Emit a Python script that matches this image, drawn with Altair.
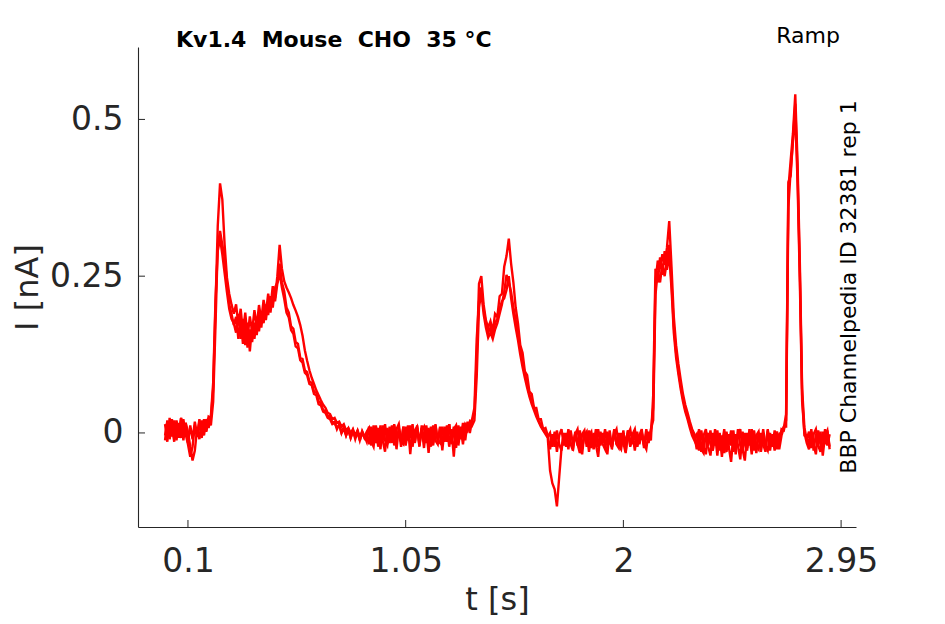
import altair as alt
import pandas as pd

# sampling interval of the recorded traces (s)
DT = 0.01

# three repetitions of the recorded current, in pA, sampled every DT from t = 0
trace_a = [
    -12, 20, -6, 22, -10, 18, -4, 24, -12, 16, -16, 12, -10, 18, -4, 22, 0, 20, 4, 26, 24,
    70, 200, 330, 398, 372, 300, 248, 222, 205, 190,
    205, 172, 198, 160, 192, 152, 186, 162, 196, 170, 204, 180, 212, 190, 222, 200, 234, 215, 250,
    300, 262, 242, 232, 224, 215, 204, 195, 185, 172, 155, 132, 115, 100, 88, 78, 68, 60, 52, 45,
    40, 32, 30, 22, 24, 16, 18, 10, 14, 4, 8, 0, 6, -4, 4, -6, 2, -8, 0,
    -18, 10, -14, 12, -22, 6, -12, 14, -18, 4, -10, 12, -26, 8, -14, 10, -20, 6, -8, 14,
    -16, 8, -22, 12, -12, 6, -32, 10, -16, 12, -14, 8, -20, 10, -8, 14, -18, 10, -24, 12,
    -10, 16, -12, 18, 0, 20,
    30, 120, 238, 250, 205, 180, 168, 178, 162, 190, 185, 218, 222, 265, 282, 310, 270, 240, 200,
    175, 140, 128, 98, 92, 66, 62, 40, 40, 22, 22, 6, 8, -4,
    -26, -2, -22, 4, -18, -28, 0, -20, 6, -16, -24, 2, -18, -32, -2, 4, -22, -4, 2, -26,
    -14, 6, -20, 0, -18, -34, 4, -22, -2, 6, -20, -26, 0, -16, 4, -22, -2, -28, 2, -18,
    0, -20, 6, -14, 2,
    40, 240, 275, 262, 285, 268, 295, 338, 265, 185, 140, 110, 85, 62, 45, 32, 18, 6, -2,
    -26, 2, -30, -4, 6, -22, -36, 0, -20, 4, -28, -4, -32, 2, -22, -46, -2, -26, 6, -20,
    -30, 0, -24, -4, -34, 4, -20, -26, 0, -18, -30, 4, -22, -4, -28, 2, -18, 6, 4,
    20, 390, 435, 478, 540, 430, 270, 70, 8, -10,
    2, -24, -2, 6, -20, -30, 2, -18, 4, -22,
]

trace_b = [
    14, -14, 24, -6, 20, -12, 16, -8, 22, -2, -18, -38, -22, 12, -6, 18, -8, 22, 2, 24, 12,
    50, 170, 300, 322, 300, 280, 240, 205, 190, 172,
    185, 150, 180, 142, 172, 136, 165, 145, 176, 156, 188, 168, 200, 180, 210, 192, 222, 210, 238,
    255, 232, 214, 192, 184, 164, 158, 138, 135, 116, 112, 96, 92, 78, 76, 62, 60, 46, 44, 34,
    32, 24, 22, 14, 16, 8, 12, 0, 6, -4, 5, -8, 2, -6, 3, -12, 0, -7, 2,
    8, -20, 12, -16, 8, -26, 12, -12, -20, 10, -16, 14, -12, 6, -22, 10, -18, 12, -34, 6,
    -14, 12, -20, 4, 10, -16, 8, -22, 12, -12, -18, 10, -28, 8, -14, 14, -16, 6, 12, -20,
    10, -10, 16, 6, 18, 12,
    20, 90, 200, 225, 190, 168, 152, 160, 150, 165, 175, 190, 205, 225, 252, 240, 225, 200, 180,
    158, 135, 112, 95, 78, 62, 50, 40, 30, 20, 12, 5, 0, -6,
    0, -22, 2, -30, -4, 6, -20, 0, -26, 4, -18, -2, 6, -22, -34, 0, -16, 4, -24, 0,
    -18, -38, 2, -16, 6, -20, -2, -26, 4, -18, 0, -22, 4, -30, -2, 6, -18, 0, -22, -4,
    6, -24, 0, -16, 6,
    20, 220, 258, 240, 270, 250, 275, 300, 240, 170, 128, 100, 76, 55, 38, 25, 12, 0, -8,
    -2, -28, 4, -22, -34, 0, -18, -28, 6, -24, -4, -38, 2, -26, -18, 4, -30, -2, -20, -42,
    2, -18, -28, 6, -22, -4, -32, 0, -24, 6, -20, -28, 0, -22, 4, -26, -2, 2, 10,
    10, 360, 420, 465, 510, 400, 240, 50, 0, -16,
    -26, 2, -18, -34, 4, -16, -24, 6, -20, -2,
]

trace_c = [
    -4, 18, -10, 14, -14, 20, -8, 24, -6, 16, 2, -22, -44, -28, 8, -10, 20, -4, 22, 8, 26,
    80, 210, 290, 310, 285, 255, 225, 198, 182, 175,
    160, 190, 150, 182, 140, 176, 130, 172, 150, 182, 162, 194, 175, 205, 188, 218, 200, 232, 240,
    270, 240, 226, 200, 192, 170, 166, 145, 142, 120, 118, 100, 97, 82, 80, 66, 64, 50, 48, 36,
    36, 26, 27, 16, 18, 6, 14, 0, 10, -4, 6, -8, 4, -10, 2, -12, 3, -5, -14,
    10, -14, -22, 10, -18, 12, -12, -30, 8, -16, 12, -20, 6, 14, -14, -18, 10, -12, 12, -22,
    4, 10, -16, 8, -24, 12, -14, 6, -20, 14, -12, -16, 10, -14, 12, -22, 6, -38, 10, -14,
    8, -18, 12, 4, 16, 22,
    40, 150, 210, 232, 198, 175, 160, 168, 158, 175, 182, 198, 210, 215, 228, 250, 215, 190, 168,
    148, 125, 105, 88, 72, 58, 46, 36, 26, 18, 10, 4, -2, -8,
    -60, -80, -90, -117, -70, -24, -2, -22, 2, -18, -28, 0, -20, 4, -24, -4, 2, -30, -2, -20,
    6, -22, -2, -18, -26, 2, -16, -22, 6, -18, -24, 0, -16, -32, 4, -20, -2, 6, -22, -4,
    2, -18, -26, 2, -12,
    60, 262, 240, 280, 252, 290, 260, 285, 230, 160, 120, 94, 70, 50, 34, 22, 8, -4, -12,
    -20, 6, -26, -32, 2, -18, 4, -28, -2, -36, 0, -22, 6, -30, -2, -20, 4, -34, -4, 6,
    -26, -44, 0, -20, 6, -28, -4, 2, -30, -6, -24, 6, -28, -2, -20, 2, -26, -4, 8,
    30, 400, 410, 470, 525, 415, 255, 60, -4, -6,
    -18, 6, -28, -2, -22, 2, -36, -4, 4, -26,
]

assert len(trace_a) == len(trace_b) == len(trace_c) == 291, (len(trace_a), len(trace_b), len(trace_c))

x_ticks = [0.1, 1.05, 2, 2.95]
y_ticks = [0, 0.25, 0.5]
x_domain = [-0.118, 3.015]
y_domain = [-0.150, 0.6155]

NB = "\u00a0"
title_text = f"Kv1.4{NB} Mouse{NB} CHO{NB} 35 °C"
protocol_text = "Ramp"
side_text = "BBP Channelpedia ID 32381 rep 1"

rows = []
for name, tr in (("a", trace_a), ("b", trace_b), ("c", trace_c)):
    for i, v in enumerate(tr):
        rows.append({"rep": name, "t": round(i * DT, 2), "I": v / 1000.0})
df = pd.DataFrame(rows)

W, H = 718, 480
INK = "#262626"
FONT = "DejaVu Sans"

x_scale = alt.Scale(domain=x_domain, nice=False, zero=False)
y_scale = alt.Scale(domain=y_domain, nice=False, zero=False)

lines = alt.Chart(df).mark_line(color="#ff0000", strokeWidth=2.4, strokeJoin="miter").encode(
    x=alt.X("t:Q", scale=x_scale,
            axis=alt.Axis(values=x_ticks, format=".3~g", title="t [s]", ticks=False,
                          labelPadding=18, titlePadding=6)),
    y=alt.Y("I:Q", scale=y_scale,
            axis=alt.Axis(values=y_ticks, format=".3~g", title="I [nA]", ticks=False,
                          labelPadding=15, titlePadding=5)),
    detail="rep:N",
    order="t:Q",
)

xt = alt.Chart(pd.DataFrame({"v": x_ticks})).mark_rule(color=INK, strokeWidth=1).encode(
    x=alt.X("v:Q", scale=x_scale), y=alt.value(H), y2=alt.value(H - 7)
)
yt = alt.Chart(pd.DataFrame({"v": y_ticks})).mark_rule(color=INK, strokeWidth=1).encode(
    y=alt.Y("v:Q", scale=y_scale), x=alt.value(0), x2=alt.value(7)
)

title = alt.Chart(pd.DataFrame({"s": [title_text]})).mark_text(
    font=FONT, fontSize=22, fontWeight="bold", color="black", align="left", baseline="alphabetic"
).encode(text="s:N", x=alt.value(38), y=alt.value(0))

proto = alt.Chart(pd.DataFrame({"s": [protocol_text]})).mark_text(
    font=FONT, fontSize=22, color="black", align="right", baseline="alphabetic"
).encode(text="s:N", x=alt.value(702), y=alt.value(-4))

side = alt.Chart(pd.DataFrame({"s": [side_text]})).mark_text(
    font=FONT, fontSize=22, color="black", align="center", baseline="middle", angle=270
).encode(text="s:N", x=alt.value(711), y=alt.value(240))

chart = alt.layer(lines, xt, yt, title, proto, side).properties(
    width=W, height=H,
    autosize=alt.AutoSizeParams(type="none"),
    padding={"left": 130, "top": 39, "right": 70, "bottom": 89},
).configure_view(stroke=None).configure_axis(
    domainColor=INK, domainWidth=1.1, grid=False,
    labelFont=FONT, labelFontSize=33, labelColor=INK,
    titleFont=FONT, titleFontSize=32, titleFontWeight="normal", titleColor=INK,
)

chart.save("out.html", embed_options={"renderer": "svg", "actions": False})
